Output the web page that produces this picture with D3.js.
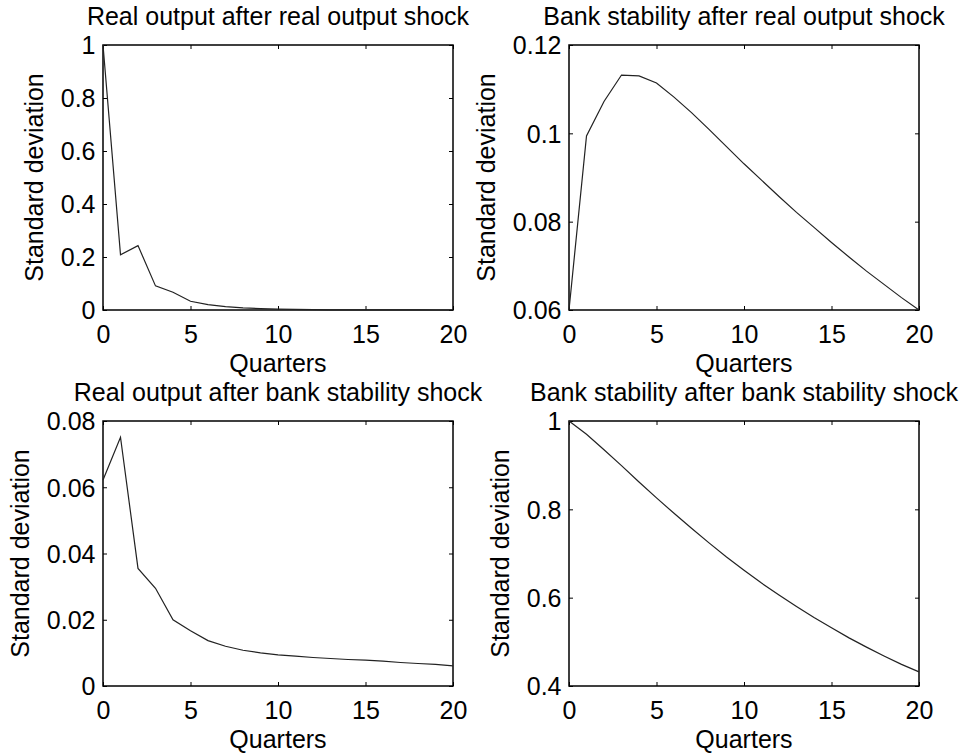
<!DOCTYPE html>
<html>
<head>
<meta charset="utf-8">
<script src="https://cdn.jsdelivr.net/npm/d3@7"></script>
<style>
    body { margin: 0; background: white; }
    svg { display: block; }
    text { font-family: 'Liberation Sans', Arial, Helvetica, sans-serif; fill: black; }
</style>
</head>
<body>
<div id="chart"></div>
<script>
let quarters = [0, 1, 2, 3, 4, 5, 6, 7, 8, 9, 10, 11, 12, 13, 14, 15, 16, 17, 18, 19, 20]

let outputAfterOutput = [1.0, 0.208, 0.243, 0.091, 0.067, 0.033, 0.020, 0.013, 0.008, 0.005, 0.003,
    0.002, 0.0012, 0.0007, 0.0004, 0.0003, 0.0002, 0.0001, 0.0001, 0.0, 0.0]
let stabilityAfterOutput = [0.0600, 0.0994, 0.1072, 0.1132, 0.1130, 0.1114, 0.1082, 0.1047, 0.1009, 0.0970, 0.0931,
    0.0894, 0.0857, 0.0821, 0.0787, 0.0753, 0.0720, 0.0688, 0.0658, 0.0628, 0.0600]
let outputAfterStability = [0.0622, 0.0751, 0.0355, 0.0295, 0.0200, 0.0167, 0.0137, 0.0120, 0.0108, 0.0100, 0.0094,
    0.0090, 0.0086, 0.0083, 0.0080, 0.0078, 0.0075, 0.0071, 0.0068, 0.0065, 0.0061]
let stabilityAfterStability = [1.000, 0.970, 0.935, 0.899, 0.862, 0.826, 0.791, 0.757, 0.724, 0.692, 0.662,
    0.633, 0.606, 0.580, 0.555, 0.532, 0.509, 0.488, 0.468, 0.449, 0.432]

let titles = [
    'Real output after real output shock',
    'Bank stability after real output shock',
    'Real output after bank stability shock',
    'Bank stability after bank stability shock'
]
let yDomains = [[0, 1], [0.06, 0.12], [0, 0.08], [0.4, 1]]
let yTicks = [
    [0, 0.2, 0.4, 0.6, 0.8, 1],
    [0.06, 0.08, 0.1, 0.12],
    [0, 0.02, 0.04, 0.06, 0.08],
    [0.4, 0.6, 0.8, 1]
]
let xTicks = [0, 5, 10, 15, 20]
let series = [outputAfterOutput, stabilityAfterOutput, outputAfterStability, stabilityAfterStability]

let width = 964
let height = 753
let plotW = 350
let plotH = 265
let lefts = [103, 569]
let tops = [45, 421]
let fontSize = 25
let tickLen = 4

let svg = d3.select('#chart').append('svg')
    .attr('width', width)
    .attr('height', height)

series.forEach((values, i) => {
    let left = lefts[i % 2]
    let top = tops[Math.floor(i / 2)]
    let g = svg.append('g').attr('transform', `translate(${left},${top})`)

    let x = d3.scaleLinear().domain([0, 20]).range([0, plotW])
    let y = d3.scaleLinear().domain(yDomains[i]).range([plotH, 0])

    // Ticks inside on all four sides, like matlab
    let bottomAxis = g.append('g')
        .attr('transform', `translate(0,${plotH})`)
        .call(d3.axisBottom(x).tickValues(xTicks).tickFormat(d3.format('d')).tickSize(-tickLen))
    let topAxis = g.append('g')
        .call(d3.axisTop(x).tickValues(xTicks).tickSize(-tickLen).tickFormat(''))
    let leftAxis = g.append('g')
        .call(d3.axisLeft(y).tickValues(yTicks[i]).tickFormat(d => String(+d.toFixed(2))).tickSize(-tickLen).tickPadding(7.5))
    let rightAxis = g.append('g')
        .attr('transform', `translate(${plotW},0)`)
        .call(d3.axisRight(y).tickValues(yTicks[i]).tickSize(-tickLen).tickFormat(''))

    ;[bottomAxis, topAxis, leftAxis, rightAxis].forEach(a => {
        a.select('.domain').remove()
        a.selectAll('line').attr('stroke', 'black').attr('stroke-width', 1)
        a.selectAll('text')
            .style('font-size', fontSize + 'px')
            .style('font-family', "'Liberation Sans', Arial, sans-serif")
            .attr('fill', 'black')
    })
    bottomAxis.selectAll('text').attr('y', 33).attr('dy', 0)
    leftAxis.selectAll('text').attr('dy', '0.35em')

    // Frame
    g.append('rect')
        .attr('width', plotW)
        .attr('height', plotH)
        .attr('fill', 'none')
        .attr('stroke', 'black')
        .attr('stroke-width', 1.5)

    // Response line
    let line = d3.line()
        .x((d, j) => x(quarters[j]))
        .y(d => y(d))
    g.append('path')
        .datum(values)
        .attr('d', line)
        .attr('fill', 'none')
        .attr('stroke', '#222')
        .attr('stroke-width', 1.2)

    // Title
    g.append('text')
        .attr('x', plotW / 2)
        .attr('y', -20)
        .attr('text-anchor', 'middle')
        .style('font-size', fontSize + 'px')
        .text(titles[i])

    // X label
    g.append('text')
        .attr('x', plotW / 2)
        .attr('y', plotH + 62)
        .attr('text-anchor', 'middle')
        .style('font-size', fontSize + 'px')
        .text('Quarters')

    // Y label, placed left of widest tick label
    let box = leftAxis.node().getBBox()
    g.append('text')
        .attr('transform', `translate(${box.x - 18},${plotH / 2}) rotate(-90)`)
        .attr('text-anchor', 'middle')
        .style('font-size', fontSize + 'px')
        .text('Standard deviation')
})
</script>
</body>
</html>
